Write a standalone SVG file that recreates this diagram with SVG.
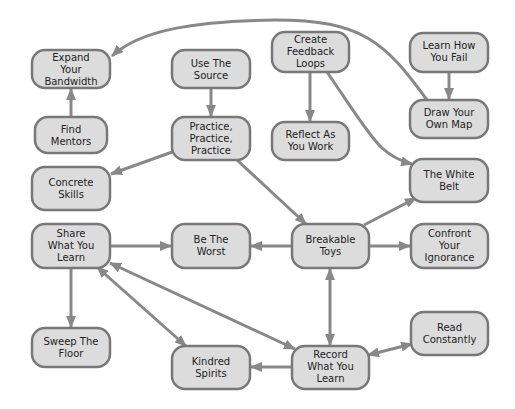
<svg xmlns="http://www.w3.org/2000/svg" width="515" height="409" viewBox="0 0 515 409">
<defs>
<marker id="ah" markerUnits="userSpaceOnUse" markerWidth="12" markerHeight="10" refX="11" refY="5" orient="auto-start-reverse" viewBox="0 0 12 10">
<path d="M0,0 L12,5 L0,10 Z" fill="#888"/>
</marker>
</defs>
<style>
.n rect{fill:#dcdcdc;stroke:#787878;stroke-width:2.5}
.n .sh{fill:#c8c8c8;stroke:none}
.n text{font-family:"DejaVu Sans",Verdana,sans-serif;font-size:10px;fill:#222;text-anchor:middle;dominant-baseline:central}
.e path,.e line{fill:none;stroke:#888;stroke-width:3}
.a{marker-end:url(#ah)}
.b{marker-start:url(#ah);marker-end:url(#ah)}
</style>
<rect width="515" height="409" fill="#fff"/>
<g class="e" id="connectors">
<path class="a" d="M427,100 C385,42 362,20 275,20 C195,21 140,30 112,56"/>
<line class="a" x1="71" y1="117" x2="71" y2="89"/>
<line class="a" x1="211" y1="88" x2="211" y2="116"/>
<line class="a" x1="175" y1="151" x2="111" y2="174"/>
<line class="a" x1="237" y1="160" x2="306" y2="224"/>
<line class="a" x1="310" y1="72" x2="310" y2="121"/>
<path class="a" d="M327,72 C350,105 368,135 382,148 C392,157 400,161 412,164"/>
<line class="a" x1="449" y1="72" x2="449" y2="99"/>
<line class="a" x1="364" y1="225" x2="416" y2="198"/>
<line class="a" x1="292" y1="246" x2="251" y2="246"/>
<line class="a" x1="369" y1="246" x2="410" y2="246"/>
<line class="b" x1="330" y1="269" x2="330" y2="345"/>
<line class="a" x1="110" y1="246" x2="171" y2="246"/>
<line class="a" x1="71" y1="268" x2="71" y2="327"/>
<line class="b" x1="97" y1="267" x2="186" y2="346"/>
<line class="b" x1="110" y1="263" x2="295" y2="349"/>
<line class="a" x1="292" y1="367" x2="251" y2="367"/>
<line class="b" x1="368" y1="355" x2="412" y2="344"/>
</g>
<g class="n" id="expand"><rect x="32" y="50" width="78" height="38" rx="13"/><text x="71" y="57">Expand</text><text x="71" y="69">Your</text><text x="71" y="81">Bandwidth</text></g>
<g class="n" id="mentors"><rect x="35" y="117" width="72" height="36" rx="13"/><text x="71" y="129">Find</text><text x="71" y="141">Mentors</text></g>
<g class="n" id="source"><rect x="172" y="50" width="78" height="38" rx="13"/><text x="211" y="63">Use The</text><text x="211" y="75">Source</text></g>
<g class="n" id="practice"><rect x="172" y="117" width="78" height="43" rx="13"/><text x="211" y="126">Practice,</text><text x="211" y="138">Practice,</text><text x="211" y="150">Practice</text></g>
<g class="n" id="concrete"><rect x="32" y="167" width="78" height="43" rx="13"/><text x="71" y="182">Concrete</text><text x="71" y="194">Skills</text></g>
<g class="n" id="feedback"><rect x="272" y="32" width="77" height="40" rx="13"/><text x="310.5" y="39">Create</text><text x="310.5" y="51">Feedback</text><text x="310.5" y="63">Loops</text></g>
<g class="n" id="learnfail"><rect x="410" y="33" width="78" height="39" rx="13"/><text x="449" y="45">Learn How</text><text x="449" y="57">You Fail</text></g>
<g class="n" id="drawmap"><rect x="410" y="100" width="78" height="38" rx="13"/><text x="449" y="112">Draw Your</text><text x="449" y="124">Own Map</text></g>
<g class="n" id="reflect"><rect x="272" y="122" width="77" height="38" rx="13"/><text x="310.5" y="134">Reflect As</text><text x="310.5" y="146">You Work</text></g>
<g class="n" id="whitebelt"><rect x="410" y="159" width="78" height="43" rx="13"/><text x="449" y="174">The White</text><text x="449" y="186">Belt</text></g>
<g class="n" id="share"><rect x="32" y="224" width="78" height="44" rx="13"/><text x="71" y="233">Share</text><text x="71" y="245">What You</text><text x="71" y="257">Learn</text></g>
<g class="n" id="worst"><rect x="172" y="224" width="78" height="44" rx="13"/><text x="211" y="239">Be The</text><text x="211" y="251">Worst</text></g>
<g class="n" id="toys"><rect x="292" y="224" width="77" height="44" rx="13"/><text x="330.5" y="239">Breakable</text><text x="330.5" y="251">Toys</text></g>
<g class="n" id="confront"><rect x="411" y="224" width="77" height="44" rx="13"/><text x="449.5" y="233">Confront</text><text x="449.5" y="245">Your</text><text x="449.5" y="257">Ignorance</text></g>
<g class="n" id="sweep"><rect x="32" y="328" width="78" height="39" rx="13"/><text x="71" y="341">Sweep The</text><text x="71" y="353">Floor</text></g>
<g class="n" id="kindred"><rect x="172" y="346" width="78" height="43" rx="13"/><text x="211" y="361">Kindred</text><text x="211" y="373">Spirits</text></g>
<g class="n" id="record"><rect x="292" y="346" width="77" height="43" rx="13"/><text x="330.5" y="354">Record</text><text x="330.5" y="366">What You</text><text x="330.5" y="378">Learn</text></g>
<g class="n" id="read"><rect x="411" y="312" width="77" height="43" rx="13"/><text x="449.5" y="327">Read</text><text x="449.5" y="339">Constantly</text></g>
</svg>
